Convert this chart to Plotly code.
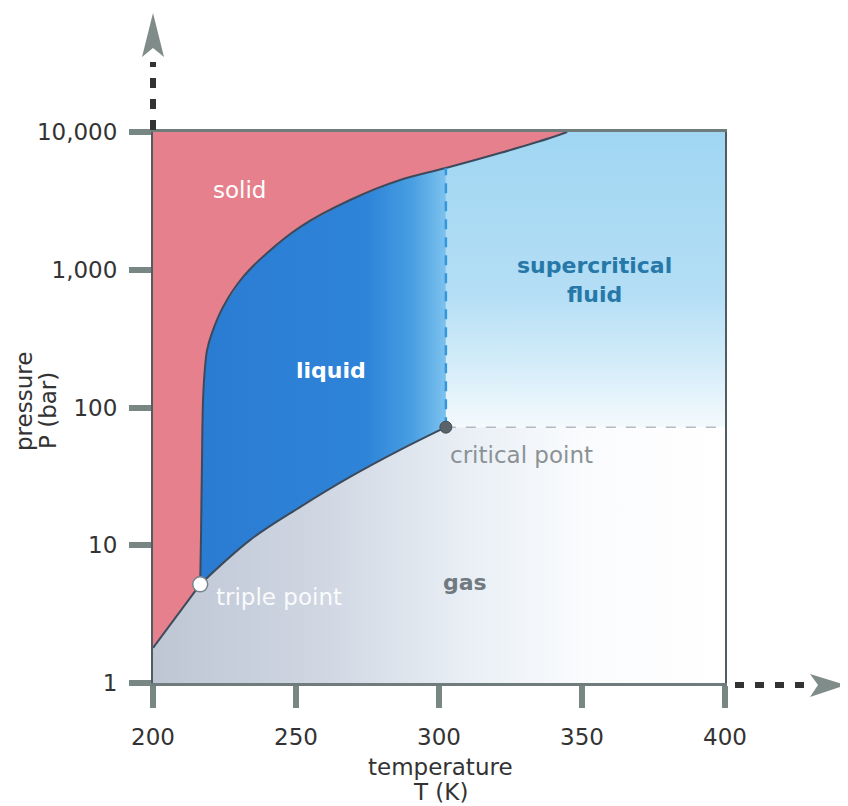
import math
import plotly.graph_objects as go

# ---------------- data ----------------
tick_T = [200, 250, 300, 350, 400]
tick_P = [1, 10, 100, 1000, 10000]
tick_P_text = ["1", "10", "100", "1,000", "10,000"]

triple_T, triple_P = 216.5, 5.2
crit_T, crit_P = 302.4, 72.0

sub_T = [200.0, 216.5]
sub_P = [1.8, 5.2]

melt_T = [216.5, 216.8, 217.1, 217.5, 218.2, 218.9, 220.6, 224.5,
          231.5, 239.9, 251.4, 268.9, 286.4, 302.4, 321.3, 338.8, 344.8]
melt_P = [5.2, 12.3, 37, 113, 197, 261, 347, 537,
          886, 1324, 2042, 3210, 4483, 5480, 7040, 9040, 10000]

vap_T = [216.5, 233.9, 251.4, 268.9, 286.4, 302.4]
vap_P = [5.2, 10.9, 18.9, 31.3, 49.2, 72.0]

T_min, T_max = 200, 400
P_min, P_max = 1, 10000

FONT = "DejaVu Sans"
LINE = "#3c4a5c"

# ---------------- region polygons ----------------
ic = melt_T.index(crit_T)

solid_x = [T_min, T_min] + sub_T[1:] + melt_T[1:] + [T_min]
solid_y = [P_max, sub_P[0]] + sub_P[1:] + melt_P[1:] + [P_max]

liq_x = melt_T[:ic + 1] + vap_T[::-1]
liq_y = melt_P[:ic + 1] + vap_P[::-1]

sc_x = [crit_T, T_max, T_max] + melt_T[ic:][::-1]
sc_y = [crit_P, crit_P, P_max] + melt_P[ic:][::-1]

gas_x = [T_min, T_max, T_max] + vap_T[::-1] + sub_T[::-1][1:] + [T_min]
gas_y = [P_min, P_min, crit_P] + vap_P[::-1] + sub_P[::-1][1:] + [P_min]

fig = go.Figure()

fig.add_trace(go.Scatter(
    x=gas_x, y=gas_y, fill="toself", mode="none", hoverinfo="skip",
    fillgradient=dict(type="horizontal", colorscale=[
        [0, "rgb(190,198,212)"], [0.3, "rgb(208,215,227)"],
        [0.55, "rgb(233,239,245)"], [0.75, "rgb(250,251,253)"], [1, "rgb(255,255,255)"]])))

fig.add_trace(go.Scatter(
    x=sc_x, y=sc_y, fill="toself", mode="none", hoverinfo="skip",
    fillgradient=dict(type="vertical", colorscale=[
        [0, "rgb(244,250,253)"], [0.2, "rgb(214,237,249)"],
        [0.45, "rgb(180,222,245)"], [1, "rgb(160,214,242)"]])))

fig.add_trace(go.Scatter(
    x=liq_x, y=liq_y, fill="toself", mode="none", hoverinfo="skip",
    fillgradient=dict(type="horizontal", colorscale=[
        [0, "rgb(42,124,210)"], [0.68, "rgb(46,132,216)"],
        [0.86, "rgb(72,158,226)"], [1, "rgb(124,194,238)"]])))

fig.add_trace(go.Scatter(
    x=solid_x, y=solid_y, fill="toself", mode="none", hoverinfo="skip",
    fillcolor="rgb(230,128,140)"))

# boundary lines
for xs, ys in [(sub_T, sub_P), (melt_T, melt_P), (vap_T, vap_P)]:
    fig.add_trace(go.Scatter(x=xs, y=ys, mode="lines", hoverinfo="skip",
                             line=dict(color=LINE, width=2, shape="spline", smoothing=1.0)))

# dashed guide lines from the critical point
fig.add_trace(go.Scatter(x=[crit_T, crit_T], y=[crit_P, melt_P[ic]], mode="lines",
                         hoverinfo="skip",
                         line=dict(color="rgb(52,150,222)", width=2.5, dash="10px,8px")))
fig.add_trace(go.Scatter(x=[crit_T, T_max], y=[crit_P, crit_P], mode="lines",
                         hoverinfo="skip",
                         line=dict(color="rgb(180,186,192)", width=1.5, dash="10px,10px")))

# points
fig.add_trace(go.Scatter(x=[crit_T], y=[crit_P], mode="markers", hoverinfo="skip",
                         marker=dict(size=12, color="rgb(90,98,106)",
                                     line=dict(color="rgb(70,78,86)", width=1))))
fig.add_trace(go.Scatter(x=[triple_T], y=[triple_P], mode="markers", hoverinfo="skip",
                         marker=dict(size=15, color="white",
                                     line=dict(color="rgb(120,130,140)", width=1.5))))

# region labels
labels = [
    ("solid", 230.4, 3790, "white", False, 23),
    ("liquid", 262.2, 187, "white", True, 22),
    ("supercritical<br>fluid", 354.5, 843, "rgb(38,120,168)", True, 22),
    ("critical point", 328.7, 45, "rgb(138,146,150)", False, 23),
    ("gas", 309.1, 5.4, "rgb(112,122,128)", True, 22),
    ("triple point", 244.1, 4.2, "rgba(255,255,255,0.92)", False, 23),
]
for txt, tx, py, col, bold, sz in labels:
    t = f"<b>{txt}</b>" if bold else txt
    fig.add_annotation(x=tx, y=math.log10(py), text=t, showarrow=False,
                       font=dict(family=FONT, size=sz, color=col), xanchor="center",
                       yanchor="middle")


def px(xp):
    return (xp - 153) / 572


def py_(yp):
    return (683 - yp) / 551


# axis titles
for txt, xx, yy in [("temperature", 440, 767), ("T (K)", 440, 792)]:
    fig.add_annotation(xref="paper", yref="paper", x=px(xx), y=py_(yy), text=txt,
                       showarrow=False, font=dict(family=FONT, size=23, color="#333"),
                       xanchor="center", yanchor="middle")
for txt, xx, yy in [("pressure", 24, 402), ("P (bar)", 48, 411)]:
    fig.add_annotation(xref="paper", yref="paper", x=px(xx), y=py_(yy), text=txt,
                       showarrow=False, textangle=-90,
                       font=dict(family=FONT, size=23, color="#333"),
                       xanchor="center", yanchor="middle")

# axis extension arrows (decoration)
fig.add_shape(type="line", xref="paper", yref="paper", x0=0, x1=0, y0=py_(130), y1=py_(62),
              line=dict(color="#333", width=6, dash="10px,11px"))
fig.add_shape(type="path", xref="paper", yref="paper",
              path=f"M {px(153)},{py_(13)} L {px(164)},{py_(57)} L {px(153)},{py_(48)} "
                   f"L {px(142)},{py_(57)} Z",
              fillcolor="rgb(128,140,138)", line=dict(width=0))
fig.add_shape(type="line", xref="paper", yref="paper", x0=px(735), x1=px(812),
              y0=py_(685), y1=py_(685),
              line=dict(color="#333", width=6, dash="9px,11px"))
fig.add_shape(type="path", xref="paper", yref="paper",
              path=f"M {px(846)},{py_(685)} L {px(810)},{py_(674)} L {px(818)},{py_(685)} "
                   f"L {px(810)},{py_(697)} Z",
              fillcolor="rgb(128,140,138)", line=dict(width=0))

fig.update_layout(
    width=840, height=798,
    margin=dict(l=145, r=123, t=124, b=123),
    paper_bgcolor="white", plot_bgcolor="white",
    showlegend=False,
    font=dict(family=FONT, color="#333"),
)
fig.update_xaxes(range=[T_min, T_max], tickvals=tick_T, ticks="outside", ticklen=22,
                 tickwidth=6, tickcolor="rgb(120,134,132)", showgrid=False, zeroline=False,
                 showline=True, linecolor="rgb(112,124,124)", linewidth=3, mirror=True,
                 tickfont=dict(family=FONT, size=23, color="#333"), ticklabelstandoff=9)
fig.update_yaxes(type="log", range=[0, 4], tickvals=tick_P, ticktext=tick_P_text,
                 ticks="outside", ticklen=22, tickwidth=6, tickcolor="rgb(120,134,132)",
                 showgrid=False, zeroline=False, showline=True,
                 linecolor="rgb(80,92,100)", linewidth=2, mirror=True,
                 tickfont=dict(family=FONT, size=23, color="#333"), ticklabelstandoff=7)

fig.write_html("out.html")
